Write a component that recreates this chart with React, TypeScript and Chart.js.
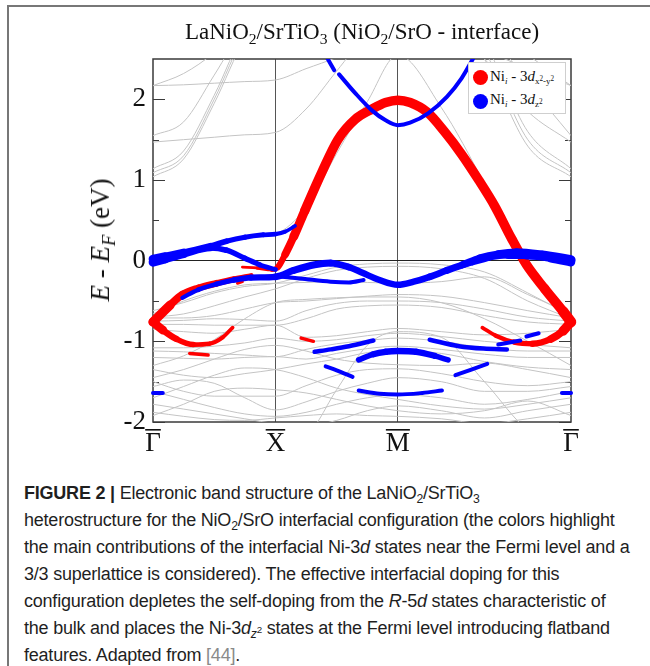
import React, { useEffect, useRef } from 'react';
import { Chart, registerables } from 'chart.js';

Chart.register(...registerables);

const SERIF = "'Liberation Serif', 'Times New Roman', Times, serif";
const SANS = "'Liberation Sans', Arial, Helvetica, sans-serif";

// k-path: Γ(0) – X(1) – M(2) – Γ(2+√2)
const kPath = [0, 0.25, 0.5, 0.75, 1, 1.25, 1.5, 1.75, 2, 2.354, 2.707, 3.061, 3.414];
const kTickValues = [0, 1, 2, 3.414];
const kTickLabels = ['Γ', 'X', 'M', 'Γ'];
const energyTicks = [-2, -1, 0, 1, 2];
const energyMinorTicks = [-1.5, -0.5, 0.5, 1.5];
const energyMin = -2;
const energyMax = 2.5;

// background (non-interfacial) bands, energies at the kPath points
const grayBands: number[][] = [
  [2.17, 2.18, 2.2, 2.22, 2.24, 2.38, 2.52, 2.7, 2.8, 2.75, 2.6, 2.38, 2.17],
  [2.17, 2.32, 2.58, 2.95, 3.2, 3.3, 3.3, 3.3, 3.3, 3.2, 2.95, 2.55, 2.17],
  [1.55, 1.72, 2.3, 2.9, 3.2, 3.3, 3.3, 3.3, 3.3, 3.2, 2.9, 2.2, 1.55],
  [1.47, 1.5, 1.53, 1.56, 1.59, 1.88, 2.35, 2.8, 3.0, 2.9, 2.5, 1.85, 1.47],
  [1.14, 1.36, 2.05, 2.85, 3.2, 3.3, 3.3, 3.3, 3.3, 3.2, 2.7, 1.6, 1.14],
  [1.09, 1.3, 2.0, 2.8, 3.2, 3.3, 3.3, 3.3, 3.3, 3.2, 2.6, 1.5, 1.09],
  [1.04, 1.26, 1.95, 2.75, 3.2, 3.3, 3.3, 3.3, 3.3, 3.2, 2.5, 1.42, 1.04],
  [0.02, 0.1, 0.19, 0.28, 0.33, 0.66, 1.33, 1.97, 2.55, 1.9, 0.95, -0.15, -0.7],
  [-0.62, -0.52, -0.4, -0.32, -0.28, -0.18, -0.08, -0.04, -0.03, -0.05, -0.14, -0.4, -0.68],
  [-0.7, -0.66, -0.56, -0.45, -0.35, -0.22, -0.12, -0.08, -0.07, -0.1, -0.22, -0.5, -0.72],
  [-0.66, -0.5, -0.38, -0.3, -0.28, -0.27, -0.26, -0.27, -0.28, -0.26, -0.2, -0.42, -0.66],
  [-0.71, -0.71, -0.68, -0.6, -0.52, -0.5, -0.47, -0.44, -0.42, -0.44, -0.52, -0.62, -0.71],
  [-0.75, -0.74, -0.72, -0.73, -0.75, -0.62, -0.53, -0.5, -0.5, -0.52, -0.6, -0.7, -0.75],
  [-0.79, -0.79, -0.8, -0.8, -0.8, -0.72, -0.6, -0.56, -0.55, -0.58, -0.68, -0.76, -0.79],
  [-0.85, -0.88, -0.9, -0.85, -0.8, -0.95, -0.93, -0.88, -0.84, -0.88, -0.92, -0.9, -0.85],
  [-1.08, -1.08, -1.06, -1.02, -0.96, -1.0, -0.98, -0.93, -0.9, -0.94, -1.0, -1.04, -1.08],
  [-1.12, -1.13, -1.15, -1.17, -1.19, -1.1, -1.03, -0.99, -0.96, -1.0, -1.08, -1.12, -1.12],
  [-1.2, -1.21, -1.22, -1.2, -1.19, -1.22, -1.15, -1.09, -1.06, -1.1, -1.16, -1.2, -1.2],
  [-1.3, -1.18, -0.98, -0.72, -0.52, -0.48, -0.46, -0.45, -0.45, -0.52, -0.72, -1.0, -1.3],
  [-1.35, -1.42, -1.45, -1.4, -1.35, -1.28, -1.22, -1.14, -1.11, -1.15, -1.25, -1.32, -1.35],
  [-1.45, -1.35, -1.22, -1.1, -1.05, -1.12, -1.22, -1.27, -1.29, -1.3, -1.27, -1.35, -1.45],
  [-1.5, -1.62, -1.68, -1.68, -1.68, -1.55, -1.42, -1.35, -1.34, -1.4, -1.5, -1.55, -1.5],
  [-1.56, -1.48, -1.52, -1.7, -1.85, -1.75, -1.62, -1.52, -1.45, -1.5, -1.62, -1.62, -1.56],
  [-1.62, -1.72, -1.82, -1.9, -1.93, -1.88, -1.78, -1.7, -1.66, -1.7, -1.78, -1.72, -1.62],
  [-1.7, -1.56, -1.42, -1.33, -1.35, -1.45, -1.58, -1.66, -1.72, -1.8, -1.84, -1.78, -1.7],
  [-1.78, -1.84, -1.9, -1.96, -2.02, -2.05, -1.98, -1.86, -1.8, -1.86, -1.95, -1.86, -1.78],
  [-1.88, -1.93, -1.97, -1.98, -1.95, -1.92, -1.9, -1.92, -1.93, -1.96, -2.02, -1.96, -1.88],
  [-1.92, -1.78, -1.62, -1.58, -1.6, -1.64, -1.72, -1.8, -1.86, -1.9, -1.86, -1.74, -1.92],
  [-2.2, -2.2, -2.2, -2.2, -2.2, -2.15, -1.6, -1.05, -0.88, -0.95, -1.5, -2.1, -2.3],
];

// interfacial Ni bands: [k, E - EF, orbital weight]
type P = [number, number, number];

const redMain: P[] = [
  [0.73, -0.08, 0.15], [0.85, -0.09, 0.2], [0.97, -0.11, 0.3], [1.02, -0.08, 0.45],
  [1.08, 0.08, 0.6], [1.15, 0.3, 0.75], [1.24, 0.62, 0.85], [1.38, 1.1, 0.85],
  [1.51, 1.5, 0.85], [1.65, 1.75, 0.85], [1.79, 1.88, 0.85], [1.9, 1.96, 0.85],
  [2.0, 1.99, 0.85], [2.1, 1.96, 0.85], [2.24, 1.84, 0.85], [2.38, 1.6, 0.85],
  [2.52, 1.32, 0.85], [2.66, 1.0, 0.85], [2.79, 0.68, 0.85], [2.93, 0.27, 0.85],
  [3.05, -0.05, 0.85], [3.2, -0.35, 0.85], [3.35, -0.63, 0.9], [3.414, -0.76, 1.0],
];
const redUpperGX: P[] = [
  [0, -0.76, 0.95], [0.14, -0.55, 0.7], [0.24, -0.42, 0.65], [0.37, -0.34, 0.6],
  [0.52, -0.28, 0.55], [0.66, -0.23, 0.5], [0.8, -0.19, 0.45],
];
const redLowerGX: P[] = [
  [0, -0.76, 0.95], [0.08, -0.86, 0.6], [0.19, -0.97, 0.5], [0.33, -1.04, 0.4],
  [0.46, -1.03, 0.35], [0.57, -0.95, 0.3], [0.65, -0.83, 0.25],
];
const redLowerMG: P[] = [
  [2.69, -0.83, 0.25], [2.8, -0.93, 0.3], [2.95, -1.01, 0.4], [3.1, -1.03, 0.5],
  [3.25, -0.97, 0.6], [3.35, -0.87, 0.75], [3.414, -0.76, 0.95],
];
const redThinXM: P[] = [[1.16, 0.43, 0.15], [1.24, 0.62, 0.15], [1.31, 0.81, 0.1]];
const redBitA: P[] = [[0.3, -1.15, 0.25], [0.45, -1.17, 0.25]];
const redBitB: P[] = [[1.21, -0.96, 0.25], [1.31, -1.0, 0.25]];
const redBitC: P[] = [[0.69, -0.28, 0.2], [0.73, -0.26, 0.2]];

const blueA: P[] = [
  [0, 0.02, 0.8], [0.1, 0.05, 0.75], [0.25, 0.1, 0.65], [0.47, 0.18, 0.5], [0.6, 0.24, 0.45],
  [0.75, 0.29, 0.4], [0.9, 0.32, 0.4], [1.0, 0.33, 0.35], [1.08, 0.36, 0.3], [1.16, 0.43, 0.25],
];
const blueB: P[] = [
  [0, -0.02, 0.8], [0.1, 0.02, 0.75], [0.25, 0.08, 0.65], [0.47, 0.16, 0.5], [0.6, 0.13, 0.45],
  [0.75, 0.03, 0.45], [0.87, -0.05, 0.4], [1.0, -0.11, 0.35],
];
const blueMid: P[] = [
  [0.24, -0.46, 0.3], [0.37, -0.36, 0.35], [0.52, -0.29, 0.4], [0.66, -0.24, 0.45],
  [0.8, -0.21, 0.5], [1.0, -0.2, 0.55], [1.15, -0.12, 0.6], [1.32, -0.05, 0.6],
  [1.45, -0.03, 0.6], [1.6, -0.08, 0.55], [1.71, -0.15, 0.55], [1.85, -0.24, 0.55],
  [2.0, -0.3, 0.55], [2.13, -0.26, 0.55], [2.26, -0.2, 0.55], [2.4, -0.12, 0.6],
  [2.53, -0.05, 0.6], [2.67, 0.03, 0.65], [2.82, 0.08, 0.7], [2.97, 0.1, 0.75],
  [3.18, 0.07, 0.8], [3.414, 0.01, 0.85],
];
const blueD: P[] = [[1.05, -0.2, 0.3], [1.2, -0.22, 0.3], [1.45, -0.26, 0.3], [1.6, -0.27, 0.3], [1.72, -0.24, 0.3]];
const blueE: P[] = [[2.32, -0.16, 0.25], [2.45, -0.1, 0.3], [2.61, -0.03, 0.35], [2.75, 0.03, 0.4]];
const blueC2: P[] = [[2.75, 0.04, 0.4], [2.9, 0.06, 0.5], [3.05, 0.06, 0.6], [3.25, 0.03, 0.7], [3.414, -0.02, 0.8]];
const blueTopA: P[] = [[1.42, 2.52, 0.3], [1.48, 2.36, 0.3]];
const blueTopB: P[] = [
  [1.52, 2.31, 0.3], [1.65, 2.08, 0.3], [1.79, 1.86, 0.3], [1.9, 1.74, 0.3], [2.0, 1.68, 0.3],
  [2.1, 1.71, 0.3], [2.25, 1.83, 0.3], [2.4, 2.03, 0.3], [2.52, 2.26, 0.3], [2.62, 2.52, 0.3],
];
const blueLow1: P[] = [[0, -1.64, 0.3], [0.08, -1.64, 0.3]];
const blueLow2: P[] = [[3.34, -1.64, 0.3], [3.414, -1.64, 0.3]];
const blueLow3: P[] = [[1.32, -1.13, 0.35], [1.45, -1.1, 0.35], [1.6, -1.06, 0.35], [1.8, -0.99, 0.35]];
const blueLow4: P[] = [
  [1.68, -1.23, 0.4], [1.8, -1.16, 0.5], [1.9, -1.13, 0.55], [2.0, -1.12, 0.55],
  [2.15, -1.13, 0.55], [2.3, -1.18, 0.5], [2.41, -1.23, 0.4],
];
const blueLow5: P[] = [[1.41, -1.31, 0.3], [1.5, -1.36, 0.3], [1.63, -1.44, 0.3]];
const blueLow6: P[] = [[1.68, -1.61, 0.3], [1.85, -1.65, 0.3], [2.0, -1.66, 0.3], [2.2, -1.64, 0.3], [2.36, -1.61, 0.3]];
const blueLow7: P[] = [[2.26, -0.98, 0.35], [2.5, -1.06, 0.35], [2.7, -1.09, 0.35], [2.89, -1.1, 0.35]];
const blueLow8: P[] = [[2.82, -1.04, 0.3], [3.0, -0.99, 0.3]];
const blueLow9: P[] = [[3.05, -0.94, 0.3], [3.15, -0.9, 0.3]];
const blueLow10: P[] = [[2.47, -1.42, 0.3], [2.6, -1.35, 0.3], [2.73, -1.28, 0.3]];

const redBands = [redMain, redUpperGX, redLowerGX, redLowerMG, redThinXM, redBitA, redBitB, redBitC];
const blueBands = [
  blueA, blueB, blueMid, blueD, blueE, blueC2, blueTopA, blueTopB,
  blueLow1, blueLow2, blueLow3, blueLow4, blueLow5, blueLow6, blueLow7, blueLow8, blueLow9, blueLow10,
];

const RED = '#ff0000';
const BLUE = '#0000ff';
const GRAY = '#c4c4c4';

const widthOf = (w: number) => 1 + 10 * w;

function fatDataset(pts: P[], color: string, order: number) {
  return {
    data: pts.map(([x, y]) => ({ x, y })),
    showLine: true,
    borderColor: color,
    backgroundColor: color,
    pointRadius: 0,
    borderWidth: widthOf(pts[0][2]),
    borderCapStyle: 'round',
    borderJoinStyle: 'round',
    cubicInterpolationMode: 'monotone',
    clip: { left: 8, right: 8, top: 0, bottom: 0 },
    order,
    segment: {
      borderWidth: (c: any) => widthOf((pts[c.p0DataIndex][2] + pts[c.p1DataIndex][2]) / 2),
    },
  };
}

const LABEL_PAD = 6;

const framePlugin = {
  id: 'bandFrame',
  beforeDatasetsDraw(chart: any) {
    const { ctx, chartArea: a, scales } = chart;
    const y = scales.y;
    ctx.save();
    ctx.strokeStyle = '#3a3a3a';
    ctx.lineWidth = 1.5;
    ctx.strokeRect(a.left, a.top, a.right - a.left, a.bottom - a.top);
    const tick = (v: number, len: number) => {
      const py = Math.round(y.getPixelForValue(v)) + 0.5;
      ctx.beginPath();
      ctx.moveTo(a.left, py);
      ctx.lineTo(a.left + len, py);
      ctx.moveTo(a.right, py);
      ctx.lineTo(a.right - len, py);
      ctx.stroke();
    };
    ctx.lineWidth = 1.2;
    energyTicks.forEach((v) => tick(v, 12));
    energyMinorTicks.forEach((v) => tick(v, 6));
    ctx.restore();
  },
  afterDraw(chart: any) {
    const { ctx } = chart;
    const xs = chart.scales.x;
    ctx.save();
    ctx.font = `27px ${SERIF}`;
    ctx.fillStyle = '#111';
    kTickValues.forEach((v, i) => {
      const px = xs.getPixelForValue(v);
      const w = ctx.measureText(kTickLabels[i]).width;
      const yy = xs.top + LABEL_PAD + 1;
      ctx.fillRect(px - w / 2, yy, w, 1.6);
    });
    ctx.restore();
  },
};

function BandChart() {
  const ref = useRef<HTMLCanvasElement | null>(null);
  useEffect(() => {
    if (!ref.current) return;
    const datasets: any[] = [];
    grayBands.forEach((vals) => {
      datasets.push({
        data: vals.map((e, i) => ({ x: kPath[i], y: e })),
        showLine: true,
        borderColor: GRAY,
        borderWidth: 1,
        pointRadius: 0,
        cubicInterpolationMode: 'monotone',
        clip: 0,
        order: 3,
      });
    });
    redBands.forEach((b) => datasets.push(fatDataset(b, RED, 2)));
    blueBands.forEach((b) => datasets.push(fatDataset(b, BLUE, 1)));

    const chart = new Chart(ref.current, {
      type: 'scatter',
      data: { datasets },
      options: {
        animation: false,
        responsive: false,
        devicePixelRatio: 1,
        events: [],
        layout: { padding: { left: 93, right: 79, top: 59, bottom: 8 } },
        plugins: { legend: { display: false }, tooltip: { enabled: false }, title: { display: false } },
        scales: {
          x: {
            type: 'linear',
            min: 0,
            max: 3.414,
            afterBuildTicks: (s: any) => {
              s.ticks = kTickValues.map((v) => ({ value: v }));
            },
            afterFit: (s: any) => {
              s.height = 40;
            },
            ticks: {
              autoSkip: false,
              maxRotation: 0,
              padding: LABEL_PAD,
              color: '#111',
              font: { family: SERIF, size: 27 },
              callback: (_v: any, i: number) => kTickLabels[i],
            },
            grid: {
              drawTicks: false,
              lineWidth: 1,
              color: (c: any) => (c.index === 1 || c.index === 2 ? '#555' : 'rgba(0,0,0,0)'),
            },
            border: { display: false },
          },
          y: {
            type: 'linear',
            min: energyMin,
            max: energyMax,
            afterBuildTicks: (s: any) => {
              s.ticks = energyTicks.map((v) => ({ value: v }));
            },
            afterFit: (s: any) => {
              s.width = 60;
            },
            ticks: {
              padding: 7,
              color: '#111',
              font: { family: SERIF, size: 27 },
              callback: (v: any) => String(v),
            },
            grid: {
              drawTicks: false,
              lineWidth: 1,
              color: (c: any) => (c.tick && c.tick.value === 0 ? '#222' : 'rgba(0,0,0,0)'),
            },
            border: { display: false },
          },
        },
      } as any,
      plugins: [framePlugin],
    });
    return () => chart.destroy();
  }, []);
  return <canvas ref={ref} width={650} height={470} style={{ position: 'absolute', left: 0, top: 0, width: 650, height: 470 }} />;
}

const subS: React.CSSProperties = { fontSize: '0.68em', position: 'relative', top: '0.3em', lineHeight: 0 };
const supS: React.CSSProperties = { fontSize: '0.8em', position: 'relative', top: '-0.45em', lineHeight: 0 };
const legSub: React.CSSProperties = { fontSize: '0.6em', position: 'relative', top: '0.35em', lineHeight: 0 };

const captionLines: React.ReactNode[] = [
  <>
    <b>FIGURE 2 |</b> Electronic band structure of the LaNiO<span style={subS}>2</span>/SrTiO<span style={subS}>3</span>
  </>,
  <>
    heterostructure for the NiO<span style={subS}>2</span>/SrO interfacial configuration (the colors highlight
  </>,
  <>
    the main contributions of the interfacial Ni-3<i>d</i> states near the Fermi level and a
  </>,
  <>3/3 superlattice is considered). The effective interfacial doping for this</>,
  <>
    configuration depletes the self-doping from the <i>R</i>-5<i>d</i> states characteristic of
  </>,
  <>
    the bulk and places the Ni-3<i>d</i>
    <span style={subS}>
      <i>z</i>
      <span style={supS}>2</span>
    </span>{' '}
    states at the Fermi level introducing flatband
  </>,
  <>
    features. Adapted from <span style={{ color: '#8a8a8a' }}>[44]</span>.
  </>,
];

export default function App() {
  return (
    <div style={{ position: 'absolute', left: 0, top: 0, width: 650, height: 666, background: '#fff', overflow: 'hidden' }}>
      <div
        style={{
          position: 'absolute',
          left: 7,
          top: 5,
          width: 643,
          height: 661,
          borderTop: '2px solid #777',
          borderLeft: '2px solid #777',
        }}
      />
      <BandChart />
      <div
        style={{
          position: 'absolute',
          left: 153,
          width: 418,
          top: 20,
          textAlign: 'center',
          fontFamily: SERIF,
          fontSize: 23,
          lineHeight: '24px',
          color: '#111',
          whiteSpace: 'nowrap',
        }}
      >
        LaNiO<span style={subS}>2</span>/SrTiO<span style={subS}>3</span> (NiO<span style={subS}>2</span>/SrO - interface)
      </div>
      <div
        style={{
          position: 'absolute',
          left: 100,
          top: 240,
          transform: 'translate(-50%, -50%) rotate(-90deg)',
          fontFamily: SERIF,
          fontSize: 27,
          lineHeight: '30px',
          whiteSpace: 'nowrap',
          color: '#111',
        }}
      >
        <i>E</i> - <i>E</i>
        <span style={subS}>
          <i>F</i>
        </span>{' '}
        (eV)
      </div>
      <div
        style={{
          position: 'absolute',
          left: 468,
          top: 62,
          width: 98,
          height: 52,
          boxSizing: 'border-box',
          border: '1px solid #cfcfcf',
          background: '#fff',
          fontFamily: SERIF,
          fontSize: 15,
          lineHeight: '15px',
          color: '#111',
          whiteSpace: 'nowrap',
        }}
      >
        <div style={{ position: 'absolute', left: 4, top: 7, width: 15, height: 15, borderRadius: '50%', background: RED }} />
        <div style={{ position: 'absolute', left: 21, top: 6 }}>
          Ni<span style={legSub}><i>i</i></span> - 3<i>d</i>
          <span style={legSub}>
            x<span style={supS}>2</span>-y<span style={supS}>2</span>
          </span>
        </div>
        <div style={{ position: 'absolute', left: 4, top: 31, width: 15, height: 15, borderRadius: '50%', background: BLUE }} />
        <div style={{ position: 'absolute', left: 21, top: 29 }}>
          Ni<span style={legSub}><i>i</i></span> - 3<i>d</i>
          <span style={legSub}>
            z<span style={supS}>2</span>
          </span>
        </div>
      </div>
      <div
        style={{
          position: 'absolute',
          left: 24,
          top: 480,
          fontFamily: SANS,
          fontSize: 18,
          letterSpacing: '-0.22px',
          color: '#1f1f1f',
        }}
      >
        {captionLines.map((ln, i) => (
          <div key={i} style={{ height: 27, lineHeight: '27px', whiteSpace: 'nowrap' }}>
            {ln}
          </div>
        ))}
      </div>
    </div>
  );
}
